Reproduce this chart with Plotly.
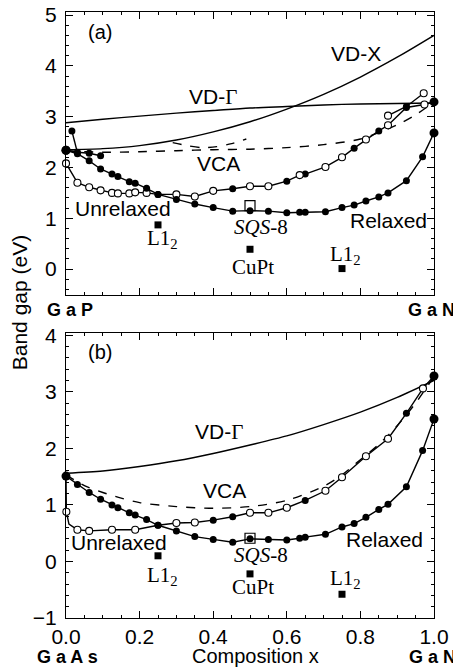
import plotly.graph_objects as go

# ---------------- Panel (a): GaP(1-x)N(x) ----------------
a_grid = [0, 0.1, 0.2, 0.3, 0.4, 0.5, 0.6, 0.7, 0.8, 0.9, 1.0]
a_vdx_y = [2.35, 2.37, 2.43, 2.54, 2.70, 2.90, 3.15, 3.44, 3.78, 4.17, 4.60]
a_vdg_y = [2.88, 2.95, 3.01, 3.07, 3.12, 3.17, 3.20, 3.23, 3.25, 3.26, 3.27]
a_vca_x = [0, 0.1, 0.2, 0.3, 0.4, 0.5, 0.6, 0.7, 0.8, 0.9, 0.955, 1.0]
a_vca_y = [2.33, 2.30, 2.31, 2.33, 2.35, 2.36, 2.39, 2.45, 2.56, 2.84, 3.06, 3.29]
a_vca2_x = [0.29, 0.33, 0.37, 0.41, 0.45, 0.49]
a_vca2_y = [2.49, 2.43, 2.39, 2.41, 2.47, 2.56]

a_rel_x = [0, 0.031, 0.063, 0.094, 0.125, 0.141, 0.172, 0.188, 0.219, 0.25, 0.30, 0.35, 0.40,
           0.453, 0.50, 0.55, 0.60, 0.635, 0.65, 0.705, 0.75, 0.783, 0.815, 0.85, 0.875, 0.925, 0.969, 1.0]
a_rel_y = [2.34, 2.27, 2.13, 1.97, 1.87, 1.82, 1.72, 1.69, 1.59, 1.47, 1.37, 1.28, 1.21,
           1.14, 1.15, 1.14, 1.11, 1.12, 1.12, 1.13, 1.21, 1.26, 1.34, 1.42, 1.50, 1.74, 2.21, 2.68]
a_rel_m = ['F'] + ['f'] * 26 + ['F']

a_unr_x = [0, 0.031, 0.063, 0.094, 0.125, 0.141, 0.172, 0.188, 0.219, 0.25, 0.30, 0.35, 0.40,
           0.453, 0.50, 0.55, 0.60, 0.635, 0.65, 0.705, 0.75, 0.783, 0.815, 0.85, 0.875, 0.925, 0.974, 1.0]
a_unr_y = [2.08, 1.70, 1.61, 1.55, 1.50, 1.49, 1.49, 1.51, 1.50, 1.47, 1.47, 1.43, 1.54,
           1.58, 1.63, 1.63, 1.73, 1.85, 1.87, 2.01, 2.20, 2.38, 2.55, 2.72, 2.83, 3.18, 3.24, 3.29]
a_unr_m = ['o', 'o', 'o', 'o', 'o', 'o', 'o', 'o', 'o', 'f', 'o', 'o', 'o', 'f', 'o', 'o', 'f',
           'o', 'f', 'o', 'o', 'f', 'o', 'f', 'o', 'f', 'o', 'F']

a_seg1_x = [0, 0.031, 0.063, 0.094]
a_seg1_y = [2.34, 2.30, 2.28, 2.23]
a_seg1_m = ['F', 'f', 'f', 'f']
a_seg2_x = [0.016, 0.031]
a_seg2_y = [2.72, 2.29]
a_seg2_m = ['f', '-']
a_seg3_x = [0.875, 0.925, 0.972]
a_seg3_y = [3.02, 3.20, 3.46]
a_seg3_m = ['o', 'f', 'o']

a_sq_x = [0.25, 0.50, 0.75]
a_sq_y = [0.87, 0.39, 0.01]
a_sqs_x = [0.50]
a_sqs_y = [1.25]

# ---------------- Panel (b): GaAs(1-x)N(x) ----------------
b_grid = [0, 0.1, 0.2, 0.3, 0.4, 0.5, 0.6, 0.7, 0.8, 0.9, 1.0]
b_vdg_y = [1.56, 1.60, 1.68, 1.78, 1.91, 2.06, 2.22, 2.42, 2.64, 2.90, 3.20]
b_vca_x = [0, 0.05, 0.1, 0.15, 0.2, 0.3, 0.4, 0.5, 0.6, 0.7, 0.75, 0.8, 0.85, 0.9, 0.95, 1.0]
b_vca_y = [1.53, 1.34, 1.22, 1.12, 1.04, 0.97, 0.94, 0.97, 1.08, 1.33, 1.53, 1.80, 2.07, 2.40, 2.80, 3.27]

b_rel_x = [0, 0.031, 0.063, 0.094, 0.125, 0.141, 0.172, 0.188, 0.219, 0.25, 0.30, 0.35, 0.40,
           0.453, 0.50, 0.55, 0.60, 0.635, 0.65, 0.705, 0.75, 0.783, 0.815, 0.85, 0.875, 0.925, 0.969, 1.0]
b_rel_y = [1.51, 1.36, 1.22, 1.10, 1.00, 0.95, 0.86, 0.82, 0.74, 0.64, 0.54, 0.44, 0.39,
           0.34, 0.40, 0.39, 0.38, 0.41, 0.43, 0.48, 0.61, 0.67, 0.78, 0.92, 1.01, 1.32, 1.96, 2.52]
b_rel_m = ['F'] + ['f'] * 26 + ['F']

b_unr_x = [0, 0.001, 0.008, 0.031, 0.063, 0.125, 0.188, 0.25, 0.30, 0.35, 0.40, 0.453, 0.50,
           0.55, 0.60, 0.65, 0.705, 0.75, 0.815, 0.875, 0.925, 0.97, 1.0]
b_unr_y = [1.51, 0.88, 0.66, 0.56, 0.54, 0.56, 0.56, 0.64, 0.68, 0.69, 0.73, 0.79, 0.86,
           0.86, 0.95, 1.08, 1.25, 1.49, 1.86, 2.17, 2.62, 3.06, 3.28]
b_unr_m = ['-', 'o', '-', 'o', 'o', 'o', 'o', 'f', 'o', 'o', 'f', 'f', 'o',
           'o', 'o', 'f', 'o', 'o', 'o', 'o', 'f', 'o', 'F']

b_sq_x = [0.25, 0.50, 0.75]
b_sq_y = [0.10, -0.22, -0.58]
b_sqs_x = [0.50]
b_sqs_y = [0.41]

SANS = "Liberation Sans, Arial, Helvetica, sans-serif"
SERIF = "Liberation Serif, Times New Roman, serif"
LW = 1.4
GAMMA = 'VD-<span style="font-family:Liberation Serif, serif">Γ</span>'

fig = go.Figure()


def add_line(x, y, xa, ya, dash="solid", shape="linear"):
    fig.add_trace(go.Scatter(x=x, y=y, mode="lines", xaxis=xa, yaxis=ya,
                             line=dict(color="black", width=LW, dash=dash, shape=shape,
                                       smoothing=0.8 if shape == "spline" else None),
                             showlegend=False, hoverinfo="skip"))


def add_marks(x, y, m, xa, ya):
    styles = {
        'f': dict(symbol="circle", size=7, color="black", line=dict(color="black", width=0)),
        'F': dict(symbol="circle", size=9, color="black", line=dict(color="black", width=0)),
        'o': dict(symbol="circle", size=7, color="white", line=dict(color="black", width=1.1)),
    }
    for k, st in styles.items():
        xs = [xi for xi, mi in zip(x, m) if mi == k]
        ys = [yi for yi, mi in zip(y, m) if mi == k]
        if xs:
            fig.add_trace(go.Scatter(x=xs, y=ys, mode="markers", xaxis=xa, yaxis=ya,
                                     marker=st, cliponaxis=False,
                                     showlegend=False, hoverinfo="skip"))


def add_curve(x, y, m, xa, ya):
    add_line(x, y, xa, ya)
    add_marks(x, y, m, xa, ya)


# Panel (a)
add_line(a_grid, a_vdx_y, "x", "y", shape="spline")
add_line(a_grid, a_vdg_y, "x", "y", shape="spline")
add_line(a_vca_x, a_vca_y, "x", "y", dash="dash", shape="spline")
add_line(a_vca2_x, a_vca2_y, "x", "y", dash="dash", shape="spline")
add_curve(a_unr_x, a_unr_y, a_unr_m, "x", "y")
add_curve(a_rel_x, a_rel_y, a_rel_m, "x", "y")
add_curve(a_seg1_x, a_seg1_y, a_seg1_m, "x", "y")
add_curve(a_seg2_x, a_seg2_y, a_seg2_m, "x", "y")
add_curve(a_seg3_x, a_seg3_y, a_seg3_m, "x", "y")
fig.add_trace(go.Scatter(x=a_sq_x, y=a_sq_y, mode="markers", xaxis="x", yaxis="y",
                         marker=dict(symbol="square", size=7, color="black"),
                         showlegend=False, hoverinfo="skip"))
fig.add_trace(go.Scatter(x=a_sqs_x, y=a_sqs_y, mode="markers", xaxis="x", yaxis="y",
                         marker=dict(symbol="square-open", size=10, color="black", line=dict(width=1.2)),
                         showlegend=False, hoverinfo="skip"))

# Panel (b)
add_line(b_grid, b_vdg_y, "x2", "y2", shape="spline")
add_line(b_vca_x, b_vca_y, "x2", "y2", dash="dash", shape="spline")
add_curve(b_unr_x, b_unr_y, b_unr_m, "x2", "y2")
add_curve(b_rel_x, b_rel_y, b_rel_m, "x2", "y2")
fig.add_trace(go.Scatter(x=b_sq_x, y=b_sq_y, mode="markers", xaxis="x2", yaxis="y2",
                         marker=dict(symbol="square", size=7, color="black"),
                         showlegend=False, hoverinfo="skip"))
fig.add_trace(go.Scatter(x=b_sqs_x, y=b_sqs_y, mode="markers", xaxis="x2", yaxis="y2",
                         marker=dict(symbol="square-open", size=10, color="black", line=dict(width=1.2)),
                         showlegend=False, hoverinfo="skip"))

ann = []


def label(text, x, y, xr, yr, size=20, family=SANS):
    ann.append(dict(text=text, x=x, y=y, xref=xr, yref=yr, showarrow=False,
                    xanchor="center", yanchor="middle",
                    font=dict(family=family, size=size, color="black")))


# Panel (a) labels
label("(a)", 0.093, 4.67, "x", "y")
label("VD-X", 0.787, 4.25, "x", "y", 21)
label(GAMMA, 0.40, 3.39, "x", "y", 21)
label("VCA", 0.415, 2.08, "x", "y", 21)
label("Unrelaxed", 0.154, 1.19, "x", "y", 21)
label("Relaxed", 0.875, 0.95, "x", "y", 21)
label("<i>SQS</i>-8", 0.529, 0.83, "x", "y", 21, SERIF)
label("L1<sub>2</sub>", 0.262, 0.60, "x", "y", 21, SERIF)
label("CuPt", 0.508, 0.05, "x", "y", 21, SERIF)
label("L1<sub>2</sub>", 0.76, 0.27, "x", "y", 21, SERIF)

# Panel (b) labels
label("(b)", 0.093, 3.70, "x2", "y2")
label(GAMMA, 0.415, 2.29, "x2", "y2", 21)
label("VCA", 0.43, 1.26, "x2", "y2", 21)
label("Unrelaxed", 0.143, 0.33, "x2", "y2", 21)
label("Relaxed", 0.865, 0.38, "x2", "y2", 21)
label("<i>SQS</i>-8", 0.529, 0.11, "x2", "y2", 21, SERIF)
label("L1<sub>2</sub>", 0.262, -0.25, "x2", "y2", 21, SERIF)
label("CuPt", 0.508, -0.45, "x2", "y2", 21, SERIF)
label("L1<sub>2</sub>", 0.76, -0.31, "x2", "y2", 21, SERIF)


# End-member and axis labels (paper coordinates)
def plab(text, x, y, size=18, bold=False, angle=0, xanchor="center"):
    ann.append(dict(text=("<b>%s</b>" % text) if bold else text, x=x, y=y,
                    xref="paper", yref="paper", showarrow=False, textangle=angle,
                    xanchor=xanchor, yanchor="middle",
                    font=dict(family=SANS, size=size, color="black")))


plab("G a P", 0.011, 0.508, bold=True)
plab("G a N", 0.992, 0.508, bold=True)
plab("G a A s", 0.005, -0.064, bold=True)
plab("G a N", 0.995, -0.064, bold=True)
plab("Composition x", 0.514, -0.063, size=20)
plab("Band gap (eV)", -0.124, 0.52, size=21, angle=-90)

axis_common = dict(showline=True, linecolor="black", linewidth=1.3, mirror="allticks",
                   ticks="inside", tickcolor="black", tickwidth=1.1, showgrid=False,
                   zeroline=False, automargin=False, ticklabeloverflow="allow",
                   tickfont=dict(family=SANS, size=21, color="black"))

# The page body adds an 8 px offset; the figure is sized so the plot lands where the reference has it.
fig.update_layout(
    width=453, height=659,
    margin=dict(l=58, r=27, t=4, b=49, autoexpand=False),
    paper_bgcolor="white", plot_bgcolor="white",
    showlegend=False,
    annotations=ann,
    xaxis=dict(domain=[0, 1], range=[0, 1], anchor="y", showticklabels=False,
               tick0=0, dtick=0.2, ticklen=7,
               minor=dict(ticks="inside", dtick=0.05, ticklen=3, tickcolor="black", showgrid=False),
               **axis_common),
    yaxis=dict(domain=[0.533, 1], range=[-0.51, 5.06], anchor="x",
               tickvals=[0, 1, 2, 3, 4, 5], ticklen=7, ticklabelstandoff=4,
               minor=dict(ticks="inside", dtick=0.2, tick0=0, ticklen=3, tickcolor="black", showgrid=False),
               **axis_common),
    xaxis2=dict(domain=[0, 1], range=[0, 1], anchor="y2",
                tickvals=[0, 0.2, 0.4, 0.6, 0.8, 1.0],
                ticktext=["0.0", "0.2", "0.4", "0.6", "0.8", "1.0"], ticklen=7,
                ticklabelstandoff=0,
                minor=dict(ticks="inside", dtick=0.05, tick0=0, ticklen=3, tickcolor="black", showgrid=False),
                **axis_common),
    yaxis2=dict(domain=[0, 0.4703], range=[-1, 4.04], anchor="x2",
                tickvals=[-1, 0, 1, 2, 3, 4], ticklen=7, ticklabelstandoff=4,
                minor=dict(ticks="inside", dtick=0.2, tick0=0, ticklen=3, tickcolor="black", showgrid=False),
                **axis_common),
)

fig.write_html("out.html")
